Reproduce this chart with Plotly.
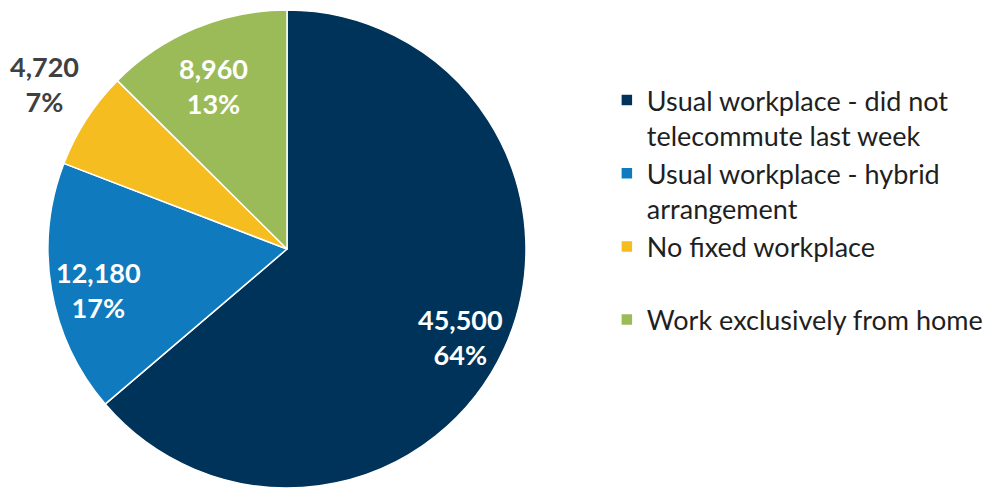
import math
import plotly.graph_objects as go

categories = [
    "Usual workplace - did not<br>telecommute last week",
    "Usual workplace - hybrid<br>arrangement",
    "No fixed workplace<br> ",
    "Work exclusively from home",
]
values = [45500, 12180, 4720, 8960]
colors = ["#003359", "#0F7ABD", "#F5BD1F", "#9BBB59"]
label_outside = [False, False, True, False]

W, H = 990, 489
M_T, M_B = 10, 1
R = (H - M_T - M_B) / 2
cx = 287
cy = M_T + R

fig = go.Figure(
    go.Pie(
        labels=categories,
        values=values,
        sort=False,
        direction="clockwise",
        rotation=0,
        marker=dict(colors=colors, line=dict(color="white", width=1.5)),
        textinfo="none",
        automargin=False,
        domain=dict(x=[(cx - R) / W, (cx + R) / W], y=[0, 1]),
        hoverinfo="skip",
    )
)

# data labels placed along each slice's mid-angle (computed from the values)
total = sum(values)
cum = 0
for v, out in zip(values, label_outside):
    mid = (cum + v / 2) / total * 2 * math.pi
    cum += v
    r = R * (1.24 if out else 0.8)
    px = cx + r * math.sin(mid)
    py = cy - r * math.cos(mid)
    fig.add_annotation(
        x=px / W,
        y=1 - py / H,
        xref="paper",
        yref="paper",
        text=f"{v:,}<br>{round(v / total * 100)}%",
        showarrow=False,
        xanchor="center",
        yanchor="middle",
        align="center",
        xshift=6 if out else 0,
        yshift=12 if out else -5,
        font=dict(family="Lato", size=27, weight="bold",
                  color="#404040" if out else "white"),
    )

fig.update_layout(
    width=W,
    height=H,
    margin=dict(l=0, r=0, t=M_T, b=M_B),
    paper_bgcolor="white",
    plot_bgcolor="white",
    font=dict(family="Lato", size=27, color="#1f1f1f"),
    showlegend=True,
    legend=dict(
        x=0.613,
        y=0.862,
        xanchor="left",
        yanchor="top",
        valign="top",
        font=dict(family="Lato", size=27, color="#1f1f1f"),
        itemwidth=30,
        tracegroupgap=0,
    ),
)

fig.write_html("out.html")
